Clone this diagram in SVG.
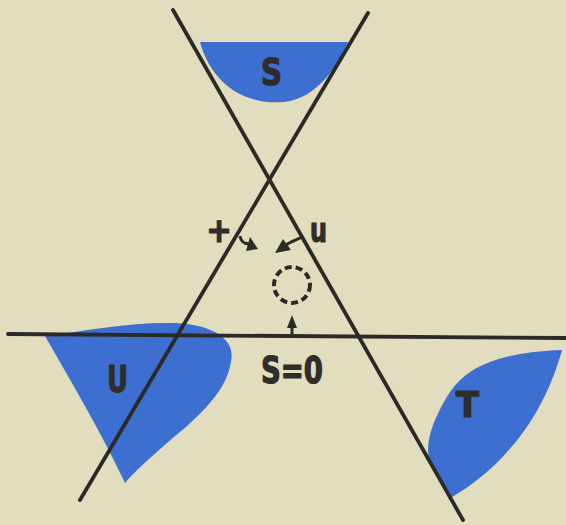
<svg xmlns="http://www.w3.org/2000/svg" width="566" height="525" viewBox="0 0 566 525">
<style>
.blob{fill:#3d6fd0}
.ln{stroke:#2b2a27;stroke-width:3.8;fill:none;stroke-linecap:round}
.lbl{font-family:"Liberation Sans Narrow","DejaVu Sans Condensed","Liberation Sans",sans-serif;font-weight:bold;fill:#2e2d2b;stroke:#2e2d2b;stroke-width:1.2}
.arr{stroke:#2b2a27;stroke-width:3;fill:none}
.head{fill:#2b2a27}
</style>
<rect width="566" height="525" fill="#e1ddbe"/>
<g id="region-S">
<path class="blob" d="M200,42 L348,42 C338,65 318,98 284,102 C245,105 212,85 200,42 Z"/>
<text class="lbl" x="261" y="85" font-size="38" textLength="21" lengthAdjust="spacingAndGlyphs">S</text>
</g>
<g id="region-U">
<path class="blob" d="M45,336 C90,330 130,322 175,323 C215,325 236,340 231,362 C226,395 192,422 167,443 C150,458 134,472 125,483 C100,430 70,380 45,336 Z"/>
<text class="lbl" x="107" y="392" font-size="38" textLength="21" lengthAdjust="spacingAndGlyphs">U</text>
</g>
<g id="region-T">
<path class="blob" d="M562,350 C510,352 470,362 450,392 C432,420 424,445 430,462 L452,497 C490,475 540,430 562,350 Z"/>
<text class="lbl" x="456" y="417" font-size="35" textLength="23" lengthAdjust="spacingAndGlyphs">T</text>
</g>
<g id="connectors">
<line class="ln" x1="173" y1="10" x2="463" y2="520"/>
<line class="ln" x1="368" y1="13" x2="80" y2="500"/>
<line class="ln" x1="8" y1="334" x2="566" y2="338"/>
</g>
<g id="arrow-plus">
<path class="arr" d="M240,236 C241,243 245,244 250,244"/>
<path class="head" d="M258,249 L246,251 L250,237 Z"/>
</g>
<g id="arrow-u">
<path class="arr" d="M302,237 C296,240 290,242 286,245"/>
<path class="head" d="M275,253 L283,239 L291,250 Z"/>
</g>
<g id="label-plus">
<text class="lbl" x="219" y="242" font-size="34" text-anchor="middle">+</text>
</g>
<g id="label-u">
<text class="lbl" x="310" y="242" font-size="34" textLength="17" lengthAdjust="spacingAndGlyphs">u</text>
</g>
<g id="circle">
<circle cx="292" cy="285" r="18" fill="none" stroke="#2b2a27" stroke-width="4" stroke-dasharray="7 4"/>
</g>
<g id="arrow-up">
<line class="arr" x1="292" y1="325" x2="292" y2="335"/>
<path class="head" d="M292,315 L297,328 L287,328 Z"/>
</g>
<g id="label-S0">
<text class="lbl" x="261" y="383" font-size="38" textLength="62" lengthAdjust="spacingAndGlyphs">S=0</text>
</g>
</svg>
